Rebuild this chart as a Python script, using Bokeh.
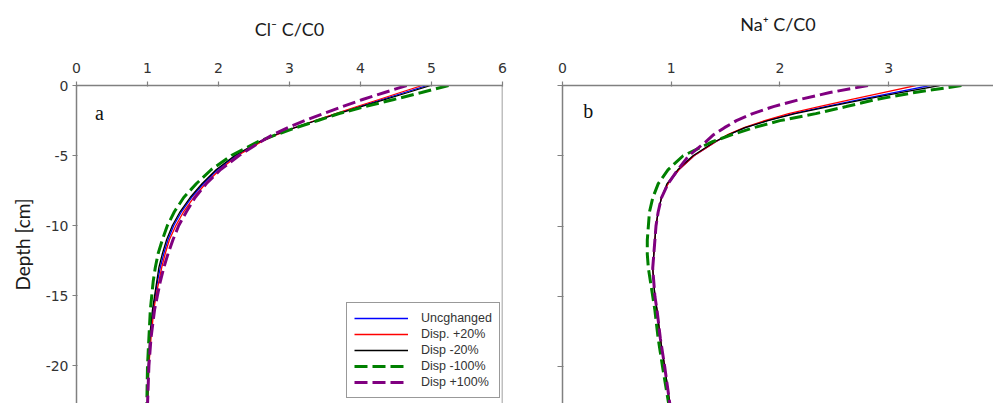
from bokeh.plotting import figure
from bokeh.layouts import row
from bokeh.models import Range1d, FixedTicker, Span, Legend, LegendItem, Label
from bokeh.embed import file_html
from bokeh.resources import INLINE

# ---------------- data ----------------
depth = [0, -0.5, -1, -1.5, -2, -2.5, -3, -3.5, -4, -5, -6, -7, -8, -9, -10,
         -11, -12, -13, -14, -15, -16, -18, -20, -22.8]

series_names = ["Uncghanged", "Disp. +20%", "Disp -20%", "Disp -100%", "Disp +100%"]

cl_unchanged = [4.94, 4.62, 4.30, 3.98, 3.67, 3.37, 3.08, 2.82, 2.60, 2.25, 1.99, 1.79, 1.62,
                1.48, 1.37, 1.29, 1.23, 1.18, 1.14, 1.11, 1.08, 1.04, 1.02, 1.00]
cl_plus20 = [4.87, 4.56, 4.26, 3.95, 3.65, 3.36, 3.08, 2.83, 2.61, 2.27, 2.02, 1.82, 1.65,
             1.51, 1.40, 1.31, 1.25, 1.20, 1.16, 1.12, 1.09, 1.05, 1.02, 1.00]
cl_minus20 = [4.99, 4.67, 4.34, 4.01, 3.69, 3.38, 3.08, 2.81, 2.58, 2.23, 1.97, 1.77, 1.60,
              1.46, 1.35, 1.27, 1.21, 1.16, 1.13, 1.10, 1.07, 1.03, 1.01, 1.00]
cl_minus100 = [5.24, 4.86, 4.47, 4.07, 3.70, 3.40, 3.10, 2.82, 2.56, 2.18, 1.90, 1.69, 1.51,
               1.38, 1.28, 1.21, 1.15, 1.11, 1.08, 1.06, 1.04, 1.02, 1.00, 0.99]
cl_plus100 = [4.65, 4.34, 4.03, 3.75, 3.48, 3.22, 2.98, 2.77, 2.60, 2.29, 2.03, 1.83, 1.67,
              1.55, 1.44, 1.36, 1.29, 1.23, 1.18, 1.14, 1.10, 1.05, 1.02, 1.00]

na_unchanged = [3.38, 3.05, 2.73, 2.42, 2.12, 1.88, 1.68, 1.53, 1.41, 1.21, 1.07, 0.97, 0.91,
                0.88, 0.86, 0.85, 0.84, 0.83, 0.84, 0.85, 0.87, 0.90, 0.94, 0.99]
na_plus20 = [3.25, 2.95, 2.65, 2.36, 2.08, 1.86, 1.67, 1.52, 1.41, 1.21, 1.07, 0.97, 0.91,
             0.88, 0.86, 0.85, 0.84, 0.83, 0.84, 0.85, 0.87, 0.90, 0.94, 0.99]
na_minus20 = [3.47, 3.11, 2.77, 2.45, 2.14, 1.89, 1.68, 1.53, 1.40, 1.20, 1.06, 0.96, 0.91,
              0.88, 0.86, 0.85, 0.84, 0.83, 0.84, 0.85, 0.87, 0.90, 0.94, 0.99]
na_minus100 = [3.67, 3.24, 2.88, 2.61, 2.33, 2.00, 1.76, 1.56, 1.38, 1.11, 0.97, 0.88, 0.83,
               0.80, 0.79, 0.78, 0.78, 0.79, 0.81, 0.83, 0.85, 0.88, 0.92, 0.98]
na_plus100 = [2.81, 2.46, 2.18, 1.94, 1.75, 1.60, 1.49, 1.39, 1.32, 1.16, 1.06, 0.97, 0.91,
              0.88, 0.86, 0.85, 0.84, 0.83, 0.84, 0.85, 0.87, 0.90, 0.94, 0.99]

depth_ticks = [0, -5, -10, -15, -20]
depth_tick_labels = ["0", "-5", "-10", "-15", "-20"]
cl_ticks = [0, 1, 2, 3, 4, 5, 6]
na_ticks = [0, 1, 2, 3, 4]

colors = ["#0000ff", "#ff0000", "#000000", "#008000", "#800080"]
widths = [1.3, 1.3, 1.3, 3, 3]
dashes = ["solid", "solid", "solid", "13 5", "13 5"]

AX = "#808080"
TICKFONT = "DejaVu Sans"
LABELFONT = "Lato"


def style(p, x_ticks):
    p.xgrid.visible = False
    p.ygrid.visible = False
    p.outline_line_color = None
    p.background_fill_color = "white"
    p.border_fill_color = "white"
    for ax in (p.xaxis[0], p.yaxis[0]):
        ax.axis_line_color = AX
        ax.axis_line_width = 1.5
        ax.major_tick_line_color = AX
        ax.major_tick_line_width = 1.2
        ax.major_tick_out = 4
        ax.major_tick_in = 1
        ax.minor_tick_line_color = None
        ax.major_label_text_font = TICKFONT
        ax.major_label_text_font_size = "14px"
        ax.major_label_text_color = "#333333"
        ax.axis_label_text_font = LABELFONT
        ax.axis_label_text_font_size = "18px"
        ax.axis_label_text_font_style = "normal"
        ax.axis_label_text_color = "#1a1a1a"
    p.xaxis[0].major_label_standoff = 9
    p.yaxis[0].major_label_standoff = 4
    p.xaxis[0].ticker = FixedTicker(ticks=x_ticks)
    p.yaxis[0].ticker = FixedTicker(ticks=depth_ticks)


TOP = 85
H = 403

# ---------------- panel a ----------------
p1 = figure(width=530, height=H, x_range=Range1d(0, 6), y_range=Range1d(-22.71, 0),
            x_axis_location="above", output_backend="svg", toolbar_location=None,
            min_border_left=76, min_border_right=28, min_border_top=TOP, min_border_bottom=0)
style(p1, cl_ticks)
p1.xaxis[0].axis_label = "Cl\u207b C/C0"
p1.xaxis[0].axis_label_standoff = 20
p1.yaxis[0].axis_label = "Depth [cm]"
p1.yaxis[0].axis_label_standoff = 9
p1.yaxis[0].axis_label_text_font_size = "19px"
p1.yaxis[0].major_label_overrides = dict(zip(depth_ticks, depth_tick_labels))

cl_series = [cl_unchanged, cl_plus20, cl_minus20, cl_minus100, cl_plus100]
items = []
for name, xs, c, w, d in zip(series_names, cl_series, colors, widths, dashes):
    r = p1.line(xs, depth, line_color=c, line_width=w, line_dash=d)
    items.append(LegendItem(label=name, renderers=[r]))

p1.add_layout(Span(location=6, dimension="height", line_color=AX, line_width=1.5))
p1.add_layout(Label(x=0.26, y=-1.95, text="a", text_font="Liberation Serif", text_font_size="20px",
                    text_baseline="middle", text_align="left", text_color="#111111"))

legend = Legend(items=items, location=(270, 5), orientation="vertical",
                label_text_font="Liberation Sans", label_text_font_size="12.5px",
                label_text_color="#333333", glyph_width=54, glyph_height=16,
                label_height=16, label_standoff=13, spacing=0, padding=7, margin=0,
                border_line_color="#333333", border_line_width=1,
                background_fill_color="white", background_fill_alpha=1)
p1.add_layout(legend)

# ---------------- panel b ----------------
p2 = figure(width=463, height=H, x_range=Range1d(0, 3.965), y_range=Range1d(-22.63, 0),
            x_axis_location="above", output_backend="svg", toolbar_location=None,
            min_border_left=32, min_border_right=0, min_border_top=TOP, min_border_bottom=0)
style(p2, na_ticks)
p2.xaxis[0].axis_label = "Na\u207a C/C0"
p2.xaxis[0].axis_label_standoff = 25
p2.yaxis[0].major_label_overrides = {t: "" for t in depth_ticks}
p2.yaxis[0].major_tick_out = 5

na_series = [na_unchanged, na_plus20, na_minus20, na_minus100, na_plus100]
for xs, c, w, d in zip(na_series, colors, widths, dashes):
    p2.line(xs, depth, line_color=c, line_width=w, line_dash=d)

p2.add_layout(Label(x=0.19, y=-1.85, text="b", text_font="Liberation Serif", text_font_size="20px",
                    text_baseline="middle", text_align="left", text_color="#111111"))

layout = row(p1, p2, spacing=0)
open("out.html", "w").write(file_html(layout, INLINE))
